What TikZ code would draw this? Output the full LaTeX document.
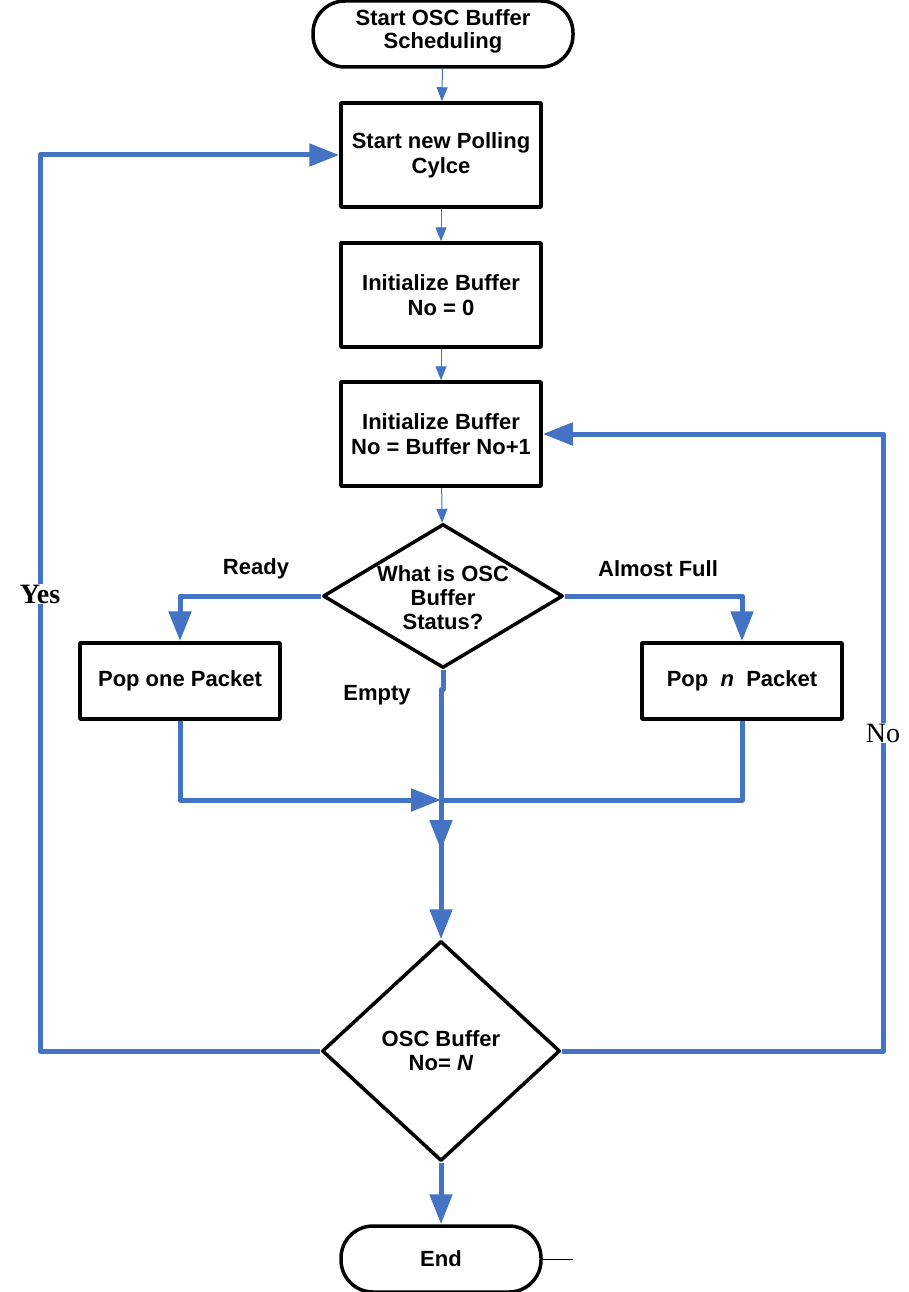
\documentclass[tikz,border=0pt]{standalone}
\usepackage{fontspec}
\setmainfont{Liberation Sans}
\newfontfamily\serifl{Liberation Serif}
\usetikzlibrary{shapes.geometric,arrows.meta}
\definecolor{flowblue}{RGB}{68,114,196}
\tikzset{
  box/.style={draw=black, line width=3.5pt, minimum width=200pt, minimum height=104pt, align=center, font=\fontsize{22}{25}\selectfont\bfseries},
  term/.style={box, rounded corners=32pt, minimum height=66pt},
  decide/.style={draw=black, line width=3.5pt, diamond, aspect=1.67, inner sep=0pt, align=center, font=\fontsize{22}{24}\selectfont\bfseries},
  thin flow/.style={draw=flowblue, line width=1pt, -{Triangle[width=11pt,length=14pt]}},
  thick flow/.style={draw=flowblue, line width=5pt, -{Triangle[width=22pt,length=30pt]}},
  lbl/.style={font=\fontsize{22}{25}\selectfont\bfseries},
}
\begin{document}
\begin{tikzpicture}[x=1pt, y=-1pt, line join=round]
  \useasboundingbox (0,0) rectangle (908,1292);

  \node[term, minimum width=260pt, text height=0pt, text depth=0pt, minimum height=66pt] (start) at (443,34) {};
  \node[font=\fontsize{22}{23}\selectfont\bfseries, align=center] (starttext) at (443,31) {Start OSC Buffer\\Scheduling};
  \node[box] (cycle) at (441,155) {Start new Polling\\Cylce};
  \node[box] (init) at (441,295) {Initialize Buffer\\No = 0};
  \node[box] (next) at (441,434) {Initialize Buffer\\No = Buffer No+1};
  \node[decide, minimum width=240pt, minimum height=144pt] (status) at (443,596) {};
  \node[font=\fontsize{22}{24}\selectfont\bfseries, align=center] (statustext) at (443,598) {What is OSC\\Buffer\\Status?};
  \node[box, minimum height=76pt] (popone) at (180,681) {Pop one Packet};
  \node[box, minimum height=76pt] (popn) at (742,681) {Pop \ \textit{n}\ \ Packet};
  \node[decide, minimum width=238pt, minimum height=220pt, aspect=1.08] (last) at (441,1051) {OSC Buffer\\No= \textit{N}};
  \node[term, minimum height=66pt] (end) at (441,1259) {End};

  % thin arrows down the main column
  \draw[thin flow] (start) -- (cycle);
  \draw[thin flow] (cycle) -- (init);
  \draw[thin flow] (init) -- (next);
  \draw[thin flow] (next) -- (status);

  % branches of the status test
  \draw[thick flow] (status.west) -| (popone.north);
  \draw[thick flow] (status.east) -| (popn.north);
  \coordinate (merge) at (441,800);
  \draw[thick flow] (popone.south) |- (merge);
  \draw[draw=flowblue, line width=5pt] (popn.south) |- (merge);
  \draw[thick flow] (status.south) -- ++(0,20) -| (441,850);
  \draw[thick flow] (441,840) -- (last.north);
  \draw[thick flow] (last.south) -- (end.north);
  \coordinate (tick) at (573,1259);
  \draw[black, line width=0.6pt] (end.east) -- (tick);

  % loops back
  \draw[thick flow] (last.west) -- (40,1051) -- (40,155) -- (cycle.west);
  \draw[thick flow] (last.east) -- (883,1051) -- (883,434) -- (next.east);

  \node[lbl] (ready) at (256,569) {Ready};
  \node[lbl] (full) at (658,569) {Almost Full};
  \node[lbl] (empty) at (377,695) {Empty};
  \node[fill=white, inner sep=1pt, font=\serifl\fontsize{28}{30}\selectfont\bfseries] (yes) at (40,594) {Yes};
  \node[fill=white, inner sep=1pt, font=\serifl\fontsize{28}{30}\selectfont] (no) at (883,733) {No};
\end{tikzpicture}
\end{document}
